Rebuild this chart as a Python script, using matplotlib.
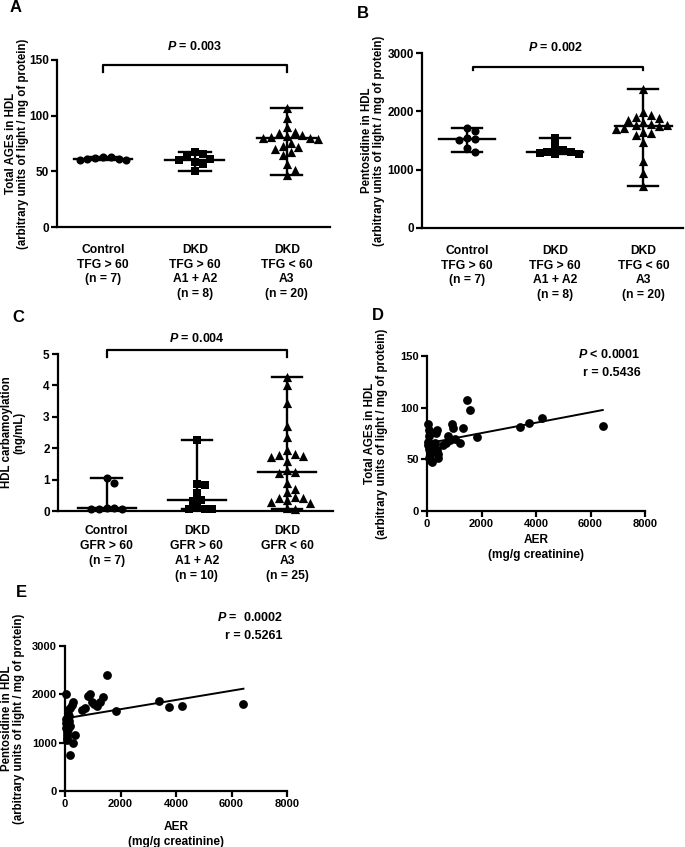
import numpy as np
import matplotlib
matplotlib.use("Agg")
import matplotlib.pyplot as plt

plt.rcParams.update({
    "font.family": "Liberation Sans", "font.weight": "bold", "font.size": 8.5,
    "axes.labelweight": "bold",
    "axes.linewidth": 1.6, "axes.spines.top": False, "axes.spines.right": False,
    "xtick.major.width": 1.6, "ytick.major.width": 1.6,
    "xtick.major.size": 4, "ytick.major.size": 4,
    "xtick.labelsize": 8.5, "ytick.labelsize": 8.5,
    "mathtext.fontset": "custom",
    "mathtext.it": "Liberation Sans:bold:italic",
    "mathtext.rm": "Liberation Sans:bold",
})

# ── Data ─────────────────────────────────────────────────────────────────────
cats_tfg = ["Control\nTFG > 60\n(n = 7)", "DKD\nTFG > 60\nA1 + A2\n(n = 8)",
            "DKD\nTFG < 60\nA3\n(n = 20)"]
cats_gfr = ["Control\nGFR > 60\n(n = 7)", "DKD\nGFR > 60\nA1 + A2\n(n = 10)",
            "DKD\nGFR < 60\nA3\n(n = 25)"]

# (A) total AGEs
ages_ctrl = [63, 62.5, 62, 61.5, 61, 60.5, 60]
ages_dkd1 = [67, 66, 63, 61, 60, 58, 57, 50]
ages_dkd2 = [107, 98, 90, 85, 84, 83, 82, 81, 80, 80, 79, 75, 73, 72, 70, 67,
             65, 57, 51, 47]

# (B) pentosidine
pent_ctrl = [1710, 1660, 1540, 1520, 1500, 1370, 1310]
pent_dkd1 = [1540, 1400, 1340, 1310, 1300, 1280, 1270, 1260]
pent_dkd2 = [2380, 1980, 1940, 1900, 1880, 1850, 1810, 1790, 1770, 1760, 1740,
             1720, 1700, 1650, 1620, 1600, 1480, 1140, 950, 720]

# (C) carbamoylation
carb_ctrl = [1.05, 0.9, 0.11, 0.1, 0.06, 0.05, 0.05]
carb_dkd1 = [2.26, 0.85, 0.83, 0.58, 0.35, 0.33, 0.08, 0.06, 0.05, 0.05]
carb_dkd2 = [4.28, 4.0, 3.45, 2.7, 2.35, 1.95, 1.82, 1.78, 1.75, 1.72, 1.6, 1.3,
             1.25, 1.2, 0.9, 0.7, 0.6, 0.45, 0.42, 0.4, 0.35, 0.3, 0.25, 0.08, 0.05]

# (D) AER vs total AGEs
aer_d = [30, 60, 90, 40, 50, 70, 100, 120, 80, 110, 200, 250, 300, 330, 350, 380,
         400, 420, 600, 700, 780, 850, 900, 970, 1030, 1200, 1330, 1450, 1570,
         1850, 3420, 3760, 4210, 6450, 160]
ages_d = [84, 78, 73, 67, 64, 60, 57, 54, 51, 49, 47, 62, 66, 75, 78, 59,
          55, 51, 64, 66, 73, 69, 84, 80, 70, 66, 80, 107, 98,
          72, 81, 85, 90, 82, 65]

# (E) AER vs pentosidine
aer_e = [20, 30, 40, 50, 60, 70, 80, 90, 100, 120, 150, 170, 180, 190, 240, 290,
         300, 360, 110, 600, 720, 840, 900, 980, 1060, 1150, 1260, 1380, 1500,
         1820, 3370, 3730, 4220, 6430, 130]
pent_e = [2010, 1500, 1400, 1300, 1230, 1160, 1100, 1050, 1600, 1680, 1560, 1350,
          740, 1710, 1780, 1850, 990, 1160, 1280, 1680, 1710, 1960, 2000, 1850,
          1800, 1760, 1850, 1940, 2400, 1650, 1870, 1730, 1760, 1810, 1450]

W, H = 685, 847
fig = plt.figure(figsize=(W / 100, H / 100), dpi=100)


def box(l, t, r, b):
    return [l / W, 1 - b / H, (r - l) / W, (b - t) / H]


def swarm(ax, xc, vals, d):
    vals = np.asarray(vals, float)
    pts = ax.transData.transform(np.column_stack([np.full(len(vals), xc), vals]))
    x0, ys = pts[0, 0], pts[:, 1]
    placed, xs = [], np.zeros(len(vals))
    for i in np.argsort(-vals):
        for k in range(60):
            found = False
            for sgn in ([0] if k == 0 else [1, -1]):
                cand = sgn * k * d * 0.5
                if all(np.hypot(cand - px, ys[i] - py) >= d for px, py in placed):
                    found = True
                    break
            if found:
                break
        placed.append((cand, ys[i]))
        xs[i] = x0 + cand
    return ax.transData.inverted().transform(np.column_stack([xs, ys]))[:, 0]


def dot_panel(ax, groups, markers, cats, ylim, yticks, xlim):
    ax.set_xlim(*xlim)
    ax.set_ylim(*ylim)
    ax.set_yticks(yticks)
    ax.set_xticks(range(len(cats)))
    ax.set_xticklabels(cats, linespacing=1.32, fontsize=8.7)
    ax.tick_params(axis="x", length=0, pad=12)
    ax.tick_params(axis="y", pad=2)
    for i, (vals, m) in enumerate(zip(groups, markers)):
        xs = swarm(ax, i, vals, 7.8)
        ax.scatter(xs, vals, marker=m, s=44 if m == "^" else 34, color="black",
                   clip_on=False, zorder=3, linewidths=0)
        med, lo, hi = np.median(vals), np.min(vals), np.max(vals)
        ax.plot([i - 0.32, i + 0.32], [med, med], color="black", lw=1.7, zorder=4)
        ax.plot([i - 0.17, i + 0.17], [lo, lo], color="black", lw=1.7, zorder=4)
        ax.plot([i - 0.17, i + 0.17], [hi, hi], color="black", lw=1.7, zorder=4)
        ax.plot([i, i], [lo, hi], color="black", lw=1.7, zorder=4)


def bracket(ax, x1, x2, y_lo, y_hi, y_txt, label):
    ax.plot([x1, x1, x2, x2], [y_lo, y_hi, y_hi, y_lo], color="black", lw=1.6,
            clip_on=False)
    ax.text(1, y_txt, label, ha="center", va="center", fontsize=9, clip_on=False)


ylab_ages = "Total AGEs in HDL\n(arbitrary units of light / mg of protein)"
ylab_pent = "Pentosidine in HDL\n(arbitrary units of light / mg of protein)"
YL = dict(fontsize=8.3, linespacing=1.02)

# ── A ────────────────────────────────────────────────────────────────────────
axA = fig.add_axes(box(57, 60, 330, 227))
dot_panel(axA, [ages_ctrl, ages_dkd1, ages_dkd2], ["o", "s", "^"], cats_tfg,
          (0, 150), [0, 50, 100, 150], (-0.5, 2.47))
bracket(axA, 0, 2, 139, 145.5, 162, r"$P$ = 0.003")
axA.set_ylabel(ylab_ages, **YL)
axA.yaxis.set_label_coords(-0.103, 0.5)

# ── B ────────────────────────────────────────────────────────────────────────
axB = fig.add_axes(box(422, 53, 683, 228))
dot_panel(axB, [pent_ctrl, pent_dkd1, pent_dkd2], ["o", "s", "^"], cats_tfg,
          (0, 3000), [0, 1000, 2000, 3000], (-0.51, 2.45))
bracket(axB, 0.07, 2.0, 2708, 2760, 3086, r"$P$ = 0.002")
axB.set_ylabel(ylab_pent, **YL)
axB.yaxis.set_label_coords(-0.142, 0.5)

# ── C ────────────────────────────────────────────────────────────────────────
axC = fig.add_axes(box(58, 354, 333, 511))
dot_panel(axC, [carb_ctrl, carb_dkd1, carb_dkd2], ["o", "s", "^"], cats_gfr,
          (0, 5), [0, 1, 2, 3, 4, 5], (-0.54, 2.51))
axC.tick_params(axis="x", pad=10)
bracket(axC, 0, 2, 4.9, 5.13, 5.5, r"$P$ = 0.004")
axC.set_ylabel("HDL carbamoylation\n(ng/mL)", **YL)
axC.yaxis.set_label_coords(-0.12, 0.5)


def corr_panel(ax, x, y, ylim, yticks, ylab, ylab_x, xlab_y, txt, txt_xy):
    ax.set_xlim(0, 8000)
    ax.set_ylim(*ylim)
    ax.set_xticks([0, 2000, 4000, 6000, 8000])
    ax.set_yticks(yticks)
    ax.tick_params(pad=2, labelsize=8)
    ax.scatter(x, y, s=40, color="black", clip_on=False, zorder=3, linewidths=0)
    slope, icpt = np.polyfit(x, y, 1)
    lx = np.array([min(x), max(x)])
    ax.plot(lx, icpt + slope * lx, color="black", lw=1.4, zorder=2)
    ax.set_ylabel(ylab, **YL)
    ax.yaxis.set_label_coords(ylab_x, 0.5)
    ax.set_xlabel("AER\n(mg/g creatinine)", fontsize=8.6, linespacing=1.3)
    ax.xaxis.set_label_coords(0.5, xlab_y)
    ax.text(txt_xy[0], txt_xy[1], txt, transform=ax.transAxes, ha="right",
            va="top", fontsize=9, linespacing=1.6)


# ── D ────────────────────────────────────────────────────────────────────────
axD = fig.add_axes(box(427, 356, 645, 511))
corr_panel(axD, aer_d, ages_d, (0, 150), [0, 50, 100, 150], ylab_ages, -0.178,
           -0.148, "$P$ < 0.0001\nr = 0.5436", (0.98, 1.05))

# ── E ────────────────────────────────────────────────────────────────────────
axE = fig.add_axes(box(65, 646, 287, 791))
corr_panel(axE, aer_e, pent_e, (0, 3000), [0, 1000, 2000, 3000], ylab_pent,
           -0.18, -0.207, "$P$ =  0.0002\nr = 0.5261", (0.98, 1.24))

for lbl, px, py in [("A", 10, 8), ("B", 357, 13), ("C", 12, 317),
                    ("D", 372, 315), ("E", 16, 592)]:
    fig.text(px / W, 1 - py / H, lbl, fontsize=12, fontweight="bold",
             va="center", ha="left")

fig.savefig("out.png", dpi=100)
